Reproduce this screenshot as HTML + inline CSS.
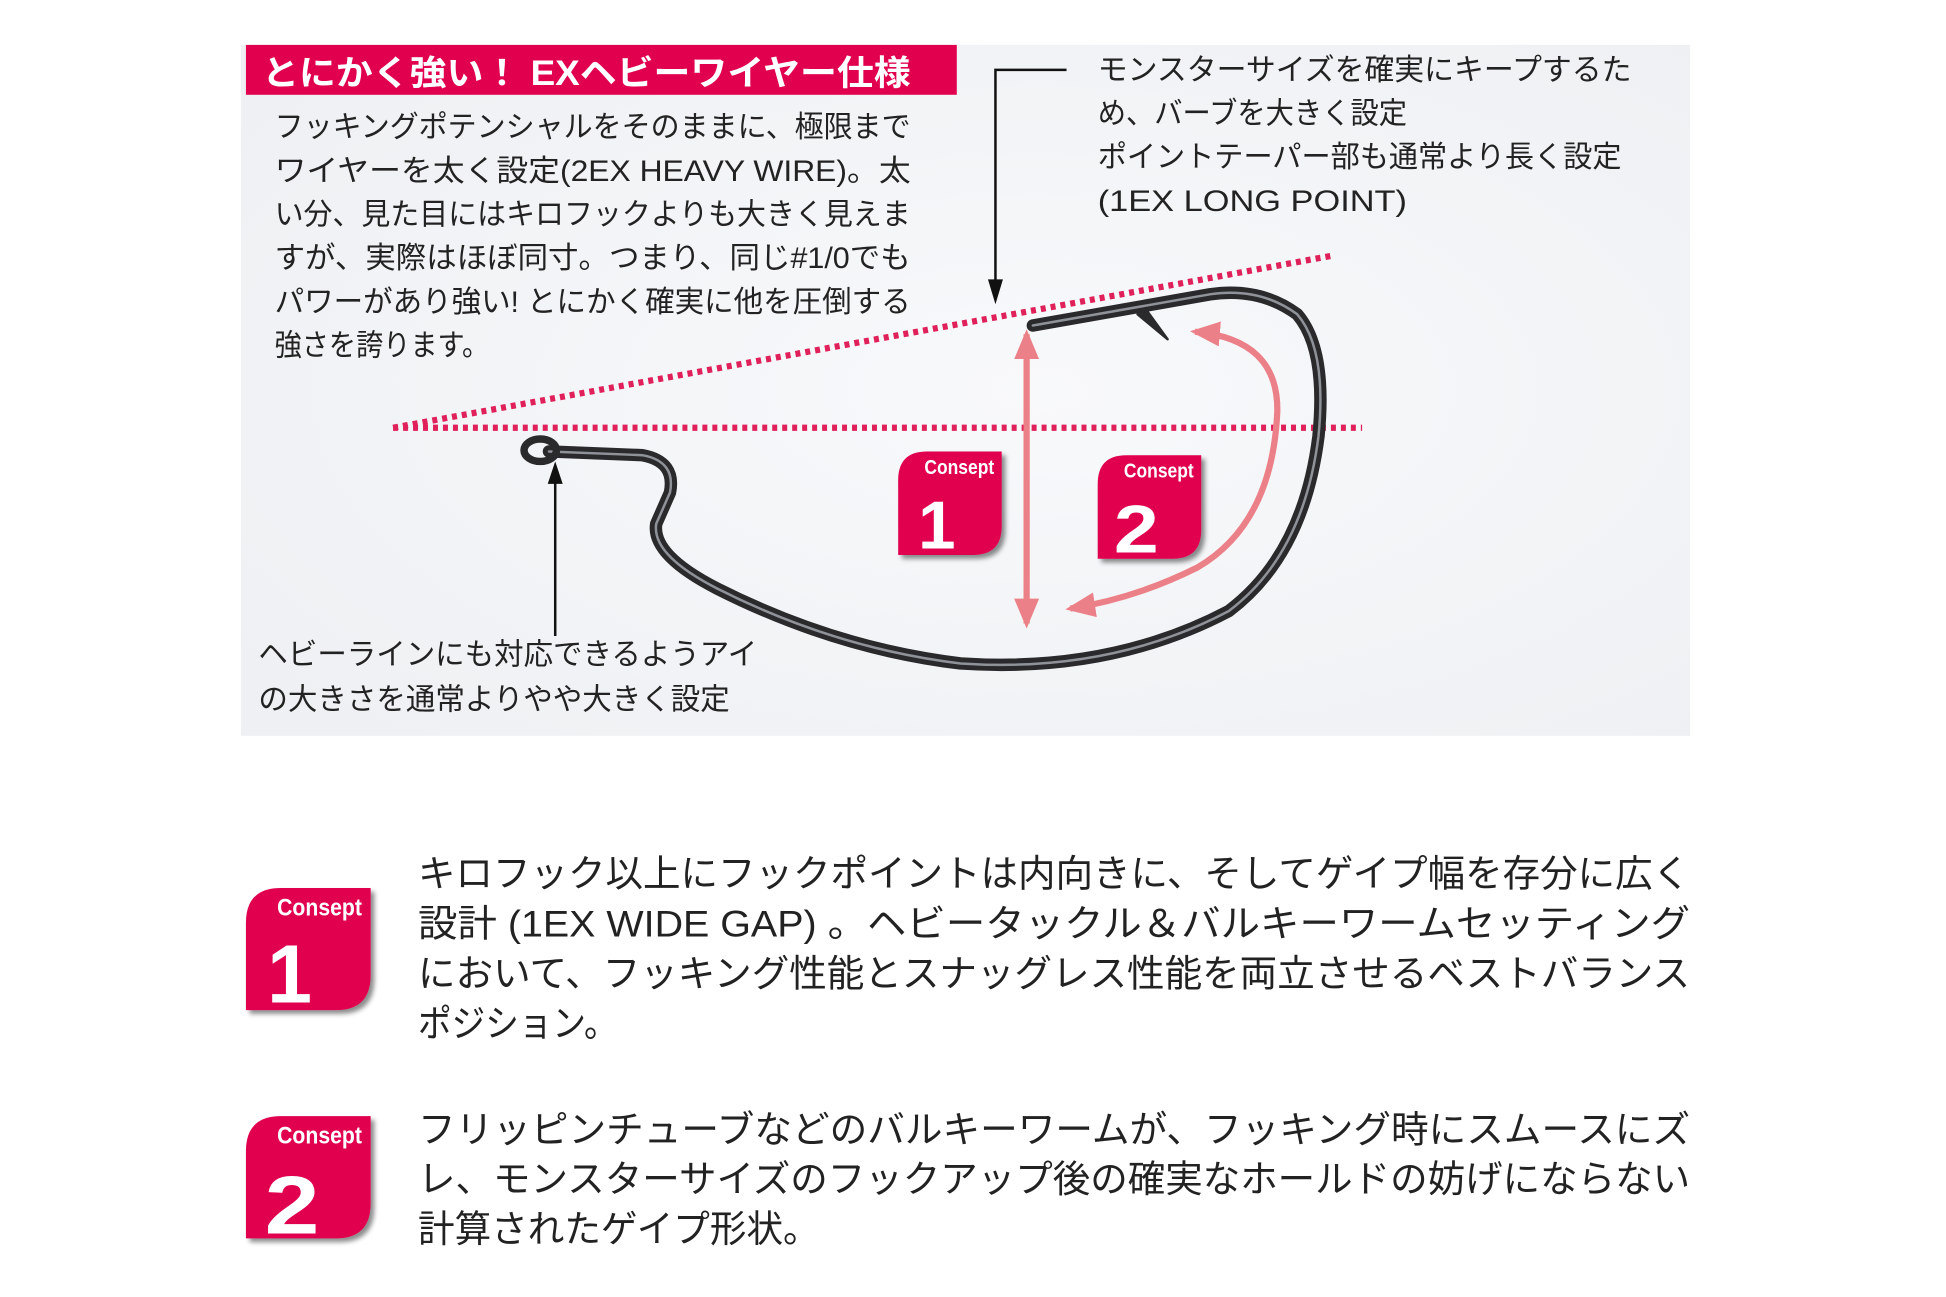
<!DOCTYPE html>
<html><head><meta charset="utf-8"><style>
html,body{margin:0;padding:0;background:#fff;}
svg{display:block;}
text{font-family:"Liberation Sans","Noto Sans CJK JP",sans-serif;}
</style></head><body>
<svg width="1946" height="1297" viewBox="0 0 1560 1040" xmlns="http://www.w3.org/2000/svg">
<defs>
<filter id="sh" x="-20%" y="-20%" width="150%" height="150%"><feDropShadow dx="3" dy="3" stdDeviation="2" flood-color="#000" flood-opacity="0.45"/></filter>
<radialGradient id="bg" cx="0.55" cy="0.5" r="0.7"><stop offset="0" stop-color="#f8f9fb"/><stop offset="1" stop-color="#eef0f3"/></radialGradient>
<marker id="ap" markerWidth="24" markerHeight="24" refX="20" refY="12" orient="auto-start-reverse" markerUnits="userSpaceOnUse"><path d="M0,2 L24,12 L0,22 z" fill="#ec8088"/></marker>
</defs>
<rect x="193" y="36" width="1162" height="554" fill="url(#bg)"/>
<rect x="197" y="36" width="570" height="40" fill="#e0004e"/>
<text x="210" y="68" font-size="28" font-weight="bold" fill="#fff" textLength="520" lengthAdjust="spacingAndGlyphs">とにかく強い！ EXヘビーワイヤー仕様</text>
<g font-size="24" fill="#222">
<text x="220" y="110" textLength="510" lengthAdjust="spacingAndGlyphs">フッキングポテンシャルをそのままに、極限まで</text>
<text x="220" y="145" textLength="510" lengthAdjust="spacingAndGlyphs">ワイヤーを太く設定(2EX HEAVY WIRE)。太</text>
<text x="220" y="180" textLength="510" lengthAdjust="spacingAndGlyphs">い分、見た目にはキロフックよりも大きく見えま</text>
<text x="220" y="215" textLength="510" lengthAdjust="spacingAndGlyphs">すが、実際はほぼ同寸。つまり、同じ#1/0でも</text>
<text x="220" y="250" textLength="510" lengthAdjust="spacingAndGlyphs">パワーがあり強い! とにかく確実に他を圧倒する</text>
<text x="220" y="285" textLength="172" lengthAdjust="spacingAndGlyphs">強さを誇ります。</text>
<text x="880" y="64" textLength="428" lengthAdjust="spacingAndGlyphs">モンスターサイズを確実にキープするた</text>
<text x="880" y="99" textLength="248" lengthAdjust="spacingAndGlyphs">め、バーブを大きく設定</text>
<text x="880" y="134" textLength="420" lengthAdjust="spacingAndGlyphs">ポイントテーパー部も通常より長く設定</text>
<text x="880" y="169" textLength="248" lengthAdjust="spacingAndGlyphs">(1EX LONG POINT)</text>
<text x="207" y="533" textLength="400" lengthAdjust="spacingAndGlyphs">ヘビーラインにも対応できるようアイ</text>
<text x="207" y="569" textLength="378" lengthAdjust="spacingAndGlyphs">の大きさを通常よりやや大きく設定</text>
</g>
<g stroke="#e0205a" stroke-width="5" stroke-dasharray="4 4" fill="none">
<line x1="315" y1="343" x2="1068" y2="205"/>
<line x1="315" y1="343" x2="1092" y2="343"/>
</g>
<g fill="none" stroke-linecap="round" stroke-linejoin="round">
<path d="M440,362 L515,365 Q542,370 537,395 L526,420 Q522,445 575,472 Q670,520 770,532 Q890,540 985,490 Q1045,445 1057,350 Q1064,280 1040,252 Q1010,230 970,236 L828,261" stroke="#2a2a2c" stroke-width="10"/>
<path d="M440,362 L515,365 Q542,370 537,395 L526,420 Q522,445 575,472 Q670,520 770,532 Q890,540 985,490 Q1045,445 1057,350 Q1064,280 1040,252 Q1010,230 970,236 L828,261" stroke="#90929a" stroke-width="2"/>
<path d="M912,252 L936,272 L920,250 z" fill="#2a2a2c" stroke="#2a2a2c" stroke-width="2"/>
<ellipse cx="433" cy="361" rx="13" ry="9" stroke="#2a2a2c" stroke-width="6"/>
</g>
<line x1="823" y1="268" x2="823" y2="500" stroke="#ec8088" stroke-width="5" marker-start="url(#ap)" marker-end="url(#ap)"/>
<path d="M958,266 Q1025,272 1024,330 Q1020,420 960,455 Q910,480 858,488" fill="none" stroke="#ec8088" stroke-width="5" marker-start="url(#ap)" marker-end="url(#ap)"/>
<polyline points="855,56 798,56 798,236" fill="none" stroke="#111" stroke-width="2"/>
<path d="M792,224 L798,244 L804,224 z" fill="#111"/>
<line x1="445" y1="510" x2="445" y2="378" stroke="#111" stroke-width="2"/>
<path d="M439,388 L445,370 L451,388 z" fill="#111"/>
<g filter="url(#sh)">
<path d="M720,385 Q720,362 743,362 L803,362 L803,422 Q803,445 780,445 L720,445 z" fill="#e0004e"/>
<path d="M880,388 Q880,365 903,365 L963,365 L963,425 Q963,448 940,448 L880,448 z" fill="#e0004e"/>
<path d="M197,740 Q197,712 225,712 L297,712 L297,782 Q297,810 269,810 L197,810 z" fill="#e0004e"/>
<path d="M197,923 Q197,895 225,895 L297,895 L297,965 Q297,993 269,993 L197,993 z" fill="#e0004e"/>
</g>
<g fill="#fff" font-weight="bold">
<text x="741" y="380" font-size="16" textLength="56" lengthAdjust="spacingAndGlyphs">Consept</text>
<text x="736" y="440" font-size="54" textLength="30" lengthAdjust="spacingAndGlyphs">1</text>
<text x="901" y="383" font-size="16" textLength="56" lengthAdjust="spacingAndGlyphs">Consept</text>
<text x="893" y="443" font-size="54" textLength="36" lengthAdjust="spacingAndGlyphs">2</text>
<text x="222" y="734" font-size="19" textLength="68" lengthAdjust="spacingAndGlyphs">Consept</text>
<text x="214" y="804" font-size="66" textLength="36" lengthAdjust="spacingAndGlyphs">1</text>
<text x="222" y="917" font-size="19" textLength="68" lengthAdjust="spacingAndGlyphs">Consept</text>
<text x="212" y="989" font-size="66" textLength="44" lengthAdjust="spacingAndGlyphs">2</text>
</g>
<g font-size="30" fill="#222">
<text x="335" y="711" textLength="1020" lengthAdjust="spacingAndGlyphs">キロフック以上にフックポイントは内向きに、そしてゲイプ幅を存分に広く</text>
<text x="335" y="751" textLength="1020" lengthAdjust="spacingAndGlyphs">設計 (1EX WIDE GAP) 。ヘビータックル＆バルキーワームセッティング</text>
<text x="335" y="791" textLength="1020" lengthAdjust="spacingAndGlyphs">において、フッキング性能とスナッグレス性能を両立させるベストバランス</text>
<text x="335" y="831" textLength="160" lengthAdjust="spacingAndGlyphs">ポジション。</text>
<text x="335" y="916" textLength="1020" lengthAdjust="spacingAndGlyphs">フリッピンチューブなどのバルキーワームが、フッキング時にスムースにズ</text>
<text x="335" y="956" textLength="1020" lengthAdjust="spacingAndGlyphs">レ、モンスターサイズのフックアップ後の確実なホールドの妨げにならない</text>
<text x="335" y="996" textLength="322" lengthAdjust="spacingAndGlyphs">計算されたゲイプ形状。</text>
</g>
</svg>
</body></html>
